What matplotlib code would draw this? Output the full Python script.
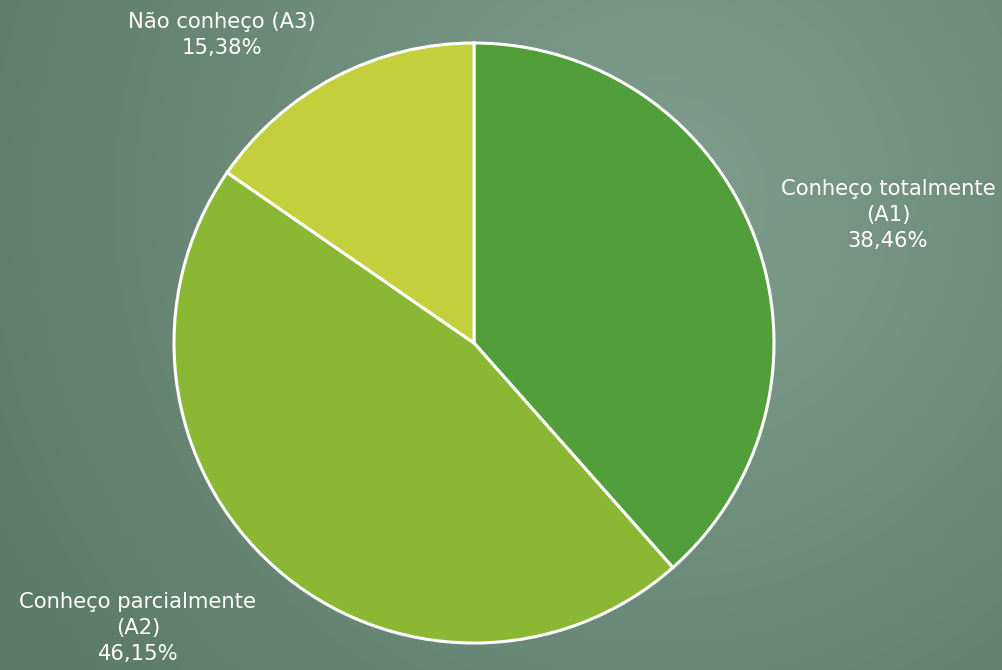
import numpy as np
import matplotlib.pyplot as plt
from matplotlib.colors import LinearSegmentedColormap

# data
labels = ["Conheço totalmente\n(A1)", "Conheço parcialmente\n(A2)", "Não conheço (A3)"]
values = [38.46, 46.15, 15.38]
colors = ["#529e3a", "#8ab834", "#c1d03b"]
label_pos = [(1.38, 0.427), (-1.12, -0.95), (-0.84, 1.027)]

W, H = 1002, 670
fig = plt.figure(figsize=(W / 100, H / 100), dpi=100)

# radial background gradient
yy, xx = np.mgrid[0:H, 0:W]
cx, cy = 660, 200
d = np.hypot(xx - cx, yy - cy)
d = d / np.hypot(W - cx + 250, H - cy)
bg_cmap = LinearSegmentedColormap.from_list("bg", ["#809e8f", "#5b7a67"])
bg = fig.add_axes([0, 0, 1, 1])
bg.imshow(np.clip(d, 0, 1), cmap=bg_cmap, vmin=0, vmax=1, aspect="auto")
bg.axis("off")

ax = fig.add_axes([174 / W, (H - 643) / H, 600 / W, 600 / H])
ax.pie(values, colors=colors, startangle=90, counterclock=False, radius=1,
       wedgeprops=dict(edgecolor="white", linewidth=2.2))
ax.set_xlim(-1, 1)
ax.set_ylim(-1, 1)
ax.set_aspect("equal")
ax.axis("off")

for lab, v, (x, y) in zip(labels, values, label_pos):
    txt = f"{lab}\n{v:.2f}%".replace(".", ",")
    ax.text(x, y, txt, ha="center", va="center", color="white", fontsize=15.2,
            family="DejaVu Sans", linespacing=1.38, clip_on=False)

fig.savefig("out.png", dpi=100)
